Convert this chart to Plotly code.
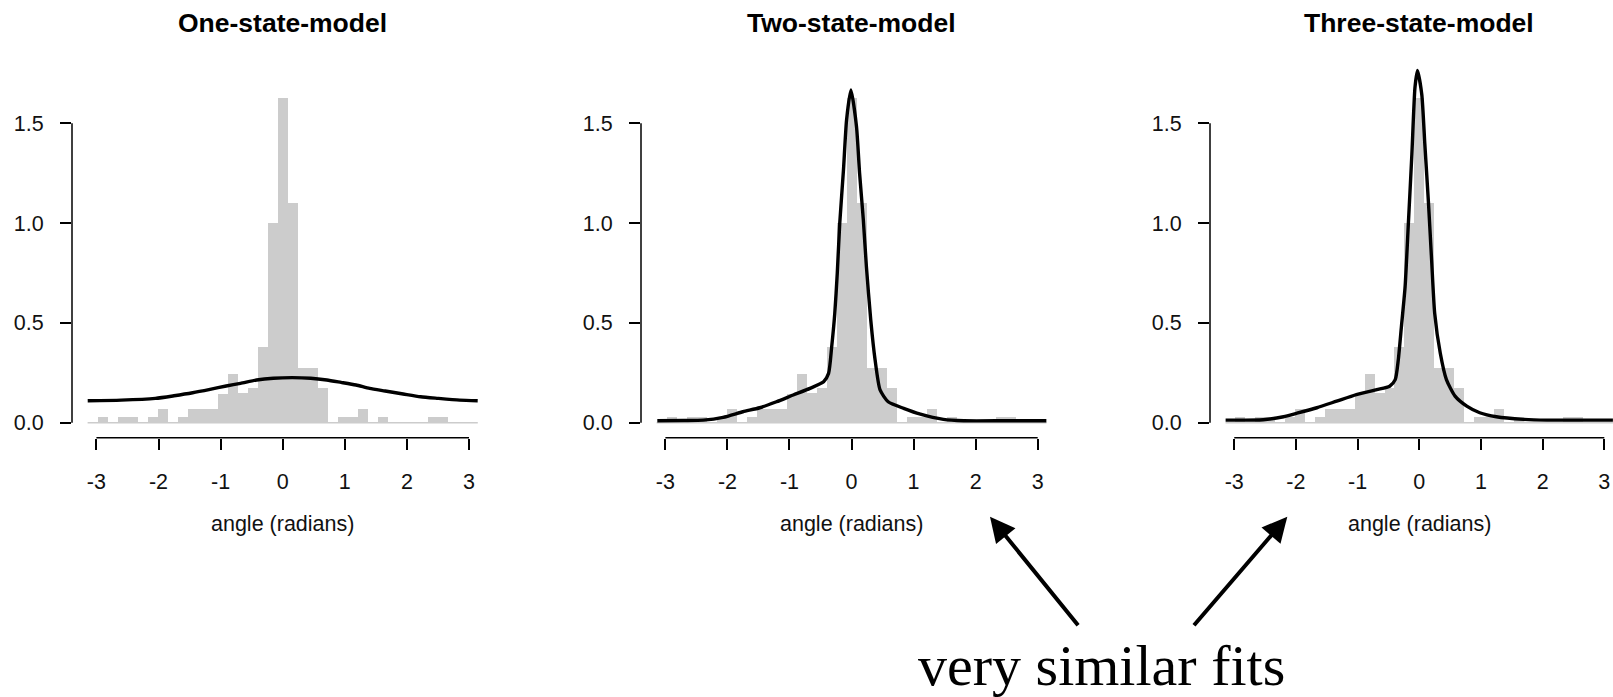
import numpy as np
import plotly.graph_objects as go

# ---------------- data ----------------
panel_titles = ["One-state-model", "Two-state-model", "Three-state-model"]
x_title = "angle (radians)"
annotation_text = "very similar fits"

n_bins = 39
hist_heights = [0.0, 0.027, 0.0, 0.027, 0.027, 0.0, 0.027, 0.070, 0.0, 0.027,
                0.068, 0.068, 0.068, 0.145, 0.245, 0.147, 0.172, 0.381, 1.002, 1.625,
                1.102, 0.272, 0.272, 0.172, 0.0, 0.027, 0.027, 0.070, 0.0, 0.027,
                0.0, 0.0, 0.0, 0.0, 0.027, 0.027, 0.0, 0.0, 0.0]

fit1_x = [-3.14, -2.6, -2.05, -1.75, -1.45, -1.17, -0.91, -0.68, -0.42, -0.15, 0.15,
          0.45, 0.71, 0.94, 1.18, 1.40, 1.65, 1.94, 2.22, 2.5, 2.85, 3.14]
fit1_y = [0.110, 0.113, 0.122, 0.135, 0.150, 0.167, 0.184, 0.197, 0.214, 0.223, 0.226,
          0.223, 0.214, 0.202, 0.189, 0.172, 0.159, 0.144, 0.130, 0.122, 0.113, 0.110]

fit2_x = [-3.13, -2.7, -2.39, -2.07, -1.75, -1.48, -1.21, -0.94, -0.67, -0.45, -0.37,
          -0.32, -0.27, -0.23, -0.19, -0.13, -0.08, -0.01, 0.08, 0.13, 0.19, 0.24, 0.31,
          0.38, 0.46, 0.59, 0.84, 1.11, 1.48, 1.81, 2.5, 3.14]
fit2_y = [0.010, 0.011, 0.013, 0.027, 0.055, 0.075, 0.105, 0.139, 0.172, 0.205, 0.247,
          0.38, 0.548, 0.748, 1.0, 1.266, 1.517, 1.667, 1.483, 1.249, 1.016, 0.78, 0.514,
          0.314, 0.164, 0.105, 0.072, 0.043, 0.017, 0.010, 0.010, 0.010]

fit3_x = [-3.14, -2.53, -2.2, -1.99, -1.66, -1.34, -1.02, -0.69, -0.48, -0.39, -0.34,
          -0.29, -0.23, -0.18, -0.12, -0.07, -0.03, 0.04, 0.09, 0.15, 0.2, 0.25, 0.34,
          0.44, 0.58, 0.77, 0.98, 1.25, 1.69, 2.07, 2.6, 3.14]
fit3_y = [0.013, 0.015, 0.030, 0.047, 0.075, 0.108, 0.141, 0.166, 0.183, 0.216, 0.316,
          0.48, 0.68, 0.98, 1.345, 1.678, 1.764, 1.645, 1.395, 1.096, 0.814, 0.548, 0.349,
          0.216, 0.133, 0.083, 0.05, 0.030, 0.017, 0.013, 0.013, 0.013]

fits = [(fit1_x, fit1_y), (fit2_x, fit2_y), (fit3_x, fit3_y)]

x_tickvals = [-3, -2, -1, 0, 1, 2, 3]
x_ticktext = ["-3", "-2", "-1", "0", "1", "2", "3"]
y_tickvals = [0, 0.5, 1.0, 1.5]
y_ticktext = ["0.0", "0.5", "1.0", "1.5"]

# ---------------- layout geometry (pixels) ----------------
W, H = 1613, 697
panel_left = [72, 641, 1210]
xr = [[-3.393, 3.393], [-3.393, 3.393], [-3.393, 3.14]]
px_per_unit = [62.1, 62.05, 61.68]
plot_top, plot_bottom = 30, 437.7
y_range = [-0.075, 1.967]

edges = np.linspace(-np.pi, np.pi, n_bins + 1)
centers = (edges[:-1] + edges[1:]) / 2
bin_w = edges[1] - edges[0]

BAR = "#cccccc"
FONT = "Liberation Sans, Arial, sans-serif"
TXT = 21.5

fig = go.Figure()
layout_axes = {}
annotations = []
shapes = []

for i in range(3):
    xa = "x" if i == 0 else f"x{i+1}"
    ya = "y" if i == 0 else f"y{i+1}"
    L = panel_left[i]
    R = min(W, L + (xr[i][1] - xr[i][0]) * px_per_unit[i])
    fig.add_trace(go.Bar(x=centers, y=hist_heights, width=bin_w,
                         marker=dict(color=BAR, line=dict(width=0)),
                         xaxis=xa, yaxis=ya, showlegend=False, hoverinfo="skip"))
    fx, fy = fits[i]
    fig.add_trace(go.Scatter(x=fx, y=fy, mode="lines",
                             line=dict(color="black", width=3.4, shape="spline", smoothing=0.6),
                             xaxis=xa, yaxis=ya, showlegend=False, hoverinfo="skip"))
    key_x = "xaxis" if i == 0 else f"xaxis{i+1}"
    key_y = "yaxis" if i == 0 else f"yaxis{i+1}"
    layout_axes[key_x] = dict(domain=[L / W, R / W], range=xr[i], anchor=ya,
                              showgrid=False, zeroline=False, showline=False,
                              tickmode="array", tickvals=x_tickvals, ticktext=x_ticktext,
                              ticks="outside", ticklen=11, tickwidth=1.5, tickcolor="black",
                              ticklabelstandoff=13,
                              tickfont=dict(family=FONT, size=TXT, color="#111"))
    layout_axes[key_y] = dict(domain=[1 - plot_bottom / H, 1 - plot_top / H], range=y_range,
                              anchor=xa, showgrid=False, zeroline=False, showline=False,
                              tickmode="array", tickvals=y_tickvals, ticktext=y_ticktext,
                              ticks="outside", ticklen=11, tickwidth=1.5, tickcolor="black",
                              ticklabelstandoff=12,
                              tickfont=dict(family=FONT, size=TXT, color="#111"))
    # axis lines spanning only the tick range (R style)
    shapes.append(dict(type="line", xref=f"{xa} domain", yref=ya, x0=0, x1=0,
                       y0=y_tickvals[0], y1=y_tickvals[-1], line=dict(color="black", width=1.5)))
    shapes.append(dict(type="line", xref=xa, yref=f"{ya} domain", x0=x_tickvals[0],
                       x1=x_tickvals[-1], y0=0, y1=0, line=dict(color="black", width=1.5)))
    # histogram baseline
    shapes.append(dict(type="line", xref=xa, yref=ya, x0=edges[0], x1=edges[-1], y0=0, y1=0,
                       line=dict(color=BAR, width=1.5), layer="below"))
    annotations.append(dict(text=f"<b>{panel_titles[i]}</b>", xref=xa, yref="paper",
                            x=0, y=1 - 22.7 / H, xanchor="center", yanchor="middle",
                            showarrow=False, font=dict(family=FONT, size=26.5, color="black")))
    annotations.append(dict(text=x_title, xref=xa, yref="paper", x=0, y=1 - 524 / H,
                            xanchor="center", yanchor="middle", showarrow=False,
                            font=dict(family=FONT, size=TXT, color="#111")))

# arrows
arrows = [((990, 516.7), (1079.3, 626.7)), ((1287.3, 516.7), (1192.7, 626.7))]
for (hx, hy), (tx, ty) in arrows:
    annotations.append(dict(x=hx / W, y=1 - hy / H, xref="paper", yref="paper",
                            ax=tx - hx, ay=ty - hy, text="", showarrow=True,
                            arrowhead=2, arrowsize=1.25, arrowwidth=4, arrowcolor="black"))

annotations.append(dict(text=annotation_text, xref="paper", yref="paper",
                        x=1101.7 / W, y=1 - 665 / H, xanchor="center", yanchor="middle",
                        showarrow=False,
                        font=dict(family="Liberation Serif, DejaVu Serif, serif", size=58,
                                  color="black")))

fig.update_layout(width=W, height=H, margin=dict(l=0, r=0, t=0, b=0),
                  paper_bgcolor="white", plot_bgcolor="white", bargap=0,
                  annotations=annotations, shapes=shapes, **layout_axes)

fig.write_html("out.html")
